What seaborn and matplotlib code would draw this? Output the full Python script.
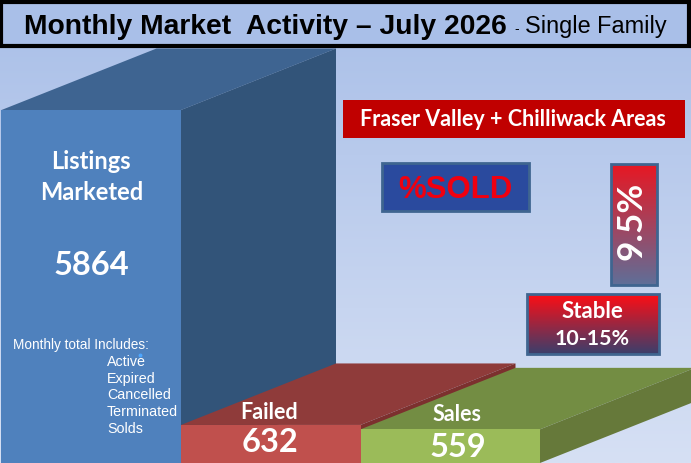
import numpy as np
import pandas as pd
import matplotlib
matplotlib.use("Agg")
import matplotlib.pyplot as plt
from matplotlib.patches import Polygon, Rectangle
import seaborn as sns

categories = ["Listings", "Failed", "Sales"]
values = [5864, 632, 559]
front_colors = ["#4f81bd", "#c0504d", "#9bbb59"]
side_colors = ["#325479", "#7c302e", "#66793a"]
top_colors = ["#3e6491", "#8f3b3a", "#738d43"]

title_main = "Monthly Market  Activity – July 2026"
title_sub = "Single Family"
region = "Fraser Valley + Chilliwack Areas"
sold_label = "%SOLD"
sold_pct = "9.5%"
stable_lines = ["Stable", "10-15%"]
includes = ["Active", "Expired", "Cancelled", "Terminated", "Solds"]

W, H = 691, 463
CALIBRI = "Lato"
ARIAL = "Liberation Sans"

sns.set_theme(style="white")
fig = plt.figure(figsize=(W / 100, H / 100), dpi=100)

# pixel coordinate layer for background and the text boxes
bg = fig.add_axes([0, 0, 1, 1], zorder=0)
bg.axis("off")
grad = np.linspace(0, 1, 256).reshape(-1, 1)
cmap_bg = matplotlib.colors.LinearSegmentedColormap.from_list("bg", ["#a9bfe8", "#d6e0f4"])
bg.imshow(grad, extent=[0, W, H, 0], aspect="auto", cmap=cmap_bg, zorder=0)

# bars
df = pd.DataFrame({"category": categories, "value": values})
ax = fig.add_axes([0, 0, 1, 1], zorder=1)
ax.patch.set_alpha(0)
sns.barplot(data=df, x="category", y="value", hue="category", palette=front_colors,
            width=1, legend=False, saturation=1, ax=ax, linewidth=0)
bar_w = 179.5
x_left = -0.5 - 1.5 / bar_w
ax.set_xlim(x_left, x_left + W / bar_w)
ax.set_ylim(0, H * 5864 / 353)
ax.axis("off")

dx = 155 / bar_w
dy = 61.5 * 5864 / 353
for i, p in enumerate(ax.patches):
    x0, x1 = p.get_x(), p.get_x() + p.get_width()
    h = p.get_height()
    p.set_zorder(3)
    ax.add_patch(Polygon([(x0, h), (x0 + dx, h + dy), (x1 + dx, h + dy), (x1, h)],
                         fc=top_colors[i], ec="none", zorder=2))
    ax.add_patch(Polygon([(x1, 0), (x1 + dx, dy), (x1 + dx, h + dy), (x1, h)],
                         fc=side_colors[i], ec="none", zorder=2))

ax.text(0, 5010, "Listings", color="white", fontsize=17, fontweight="bold", family=CALIBRI, ha="center", va="center", zorder=5)
ax.text(0, 4486, "Marketed", color="white", fontsize=17, fontweight="bold", family=CALIBRI, ha="center", va="center", zorder=5)
ax.text(0, 3280, str(values[0]), color="white", fontsize=23.5, fontweight="bold", family=CALIBRI, ha="center", va="center", zorder=5)
ax.text(0.99, 845, "Failed", color="white", fontsize=15.5, fontweight="bold", family=CALIBRI, ha="center", va="center", zorder=5)
ax.text(0.995, 340, str(values[1]), color="white", fontsize=23.5, fontweight="bold", family=CALIBRI, ha="center", va="center", zorder=5)
ax.text(2.04, 800, "Sales", color="white", fontsize=15.5, fontweight="bold", family=CALIBRI, ha="center", va="center", zorder=5)
ax.text(2.04, 265, str(values[2]), color="white", fontsize=23.5, fontweight="bold", family=CALIBRI, ha="center", va="center", zorder=5)

# overlay for boxes and notes, in pixels
top = fig.add_axes([0, 0, 1, 1], zorder=2)
top.axis("off")
top.patch.set_alpha(0)

top.add_patch(Rectangle((1.5, 1.5), W - 3, 44, fc="#a9bfe8", ec="black", lw=3))
top.text(24, 26.5, title_main, fontsize=20.3, fontweight="bold", family=ARIAL, color="black", va="center")
top.text(514, 29, "-", fontsize=10, family=ARIAL, color="black", va="center")
top.text(525, 27, title_sub, fontsize=16.9, family=ARIAL, color="black", va="center")

top.add_patch(Rectangle((343, 100), 342, 38, fc="#c00000", ec="none"))
top.text(513, 120, region, fontsize=15.5, fontweight="bold", family=CALIBRI, color="white", ha="center", va="center")

top.add_patch(Rectangle((382, 163), 147, 48, fc="#2a4a9e", ec="#3f6590", lw=2))
top.text(455, 190, sold_label, fontsize=22.4, fontweight="bold", family=ARIAL, color="#f00010", ha="center", va="center")


def gradient_box(x, y, w, h, c_top, c_bottom):
    cm = matplotlib.colors.LinearSegmentedColormap.from_list("box", [c_top, c_bottom])
    top.imshow(grad, extent=[x, x + w, y + h, y], aspect="auto", cmap=cm, zorder=2)
    top.add_patch(Rectangle((x, y), w, h, fc="none", ec="#3f6590", lw=2, zorder=3))


gradient_box(611, 164, 46, 121, "#e81722", "#5f6f99")
top.text(632, 220.5, sold_pct, fontsize=25.4, fontweight="bold", family=CALIBRI, color="white", rotation=90, ha="center", va="center", zorder=4)

gradient_box(527, 294, 132, 60, "#ff0d14", "#3a3f6c")
top.text(592, 312, stable_lines[0], fontsize=16, fontweight="bold", family=CALIBRI, color="white", ha="center", va="center", zorder=4)
top.text(592, 339, stable_lines[1], fontsize=15.4, fontweight="bold", family=CALIBRI, color="white", ha="center", va="center", zorder=4)

top.text(13, 345, "Monthly total Includes:", fontsize=9.8, family=ARIAL, color="white", va="center", zorder=4)
for row, name in enumerate(includes):
    top.text(107, 362 + row * 16.7, name, fontsize=10.3, family=ARIAL, color="white", va="center", zorder=4)
top.plot([140], [355], "o", ms=1.8, color="#4da6ff", zorder=5)

top.set_xlim(0, W)
top.set_ylim(H, 0)
bg.set_xlim(0, W)
bg.set_ylim(H, 0)
fig.savefig("out.png", dpi=100)
